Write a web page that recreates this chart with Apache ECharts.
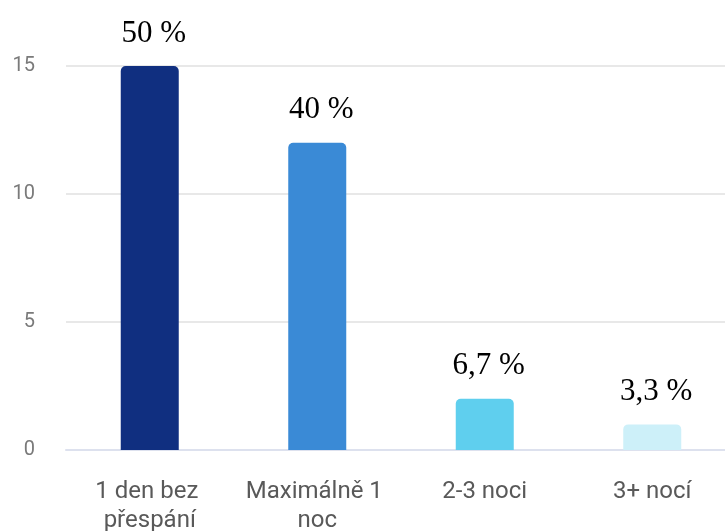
<!DOCTYPE html>
<html>
<head>
<meta charset="utf-8">
<title>ECharts</title>
<script src="https://cdn.jsdelivr.net/npm/echarts@6/dist/echarts.min.js"></script>
<style>
  html, body { margin: 0; padding: 0; background: #fff; }
  #main { width: 725px; height: 531px; }
</style>
</head>
<body>
<div id="main"></div>
<script type="text/javascript">
    // data
    var categories = ['1 den bez přespání', 'Maximálně 1 noc', '2-3 noci', '3+ nocí'];
    var counts = [15, 12, 2, 1];
    var percentLabels = ['50 %', '40 %', '6,7 %', '3,3 %'];
    var barColors = ['#102f80', '#3a8ad6', '#5fcfee', '#cdf0f9'];

    var myChart = echarts.init(document.getElementById('main'));

    var seriesData = [];
    for (var i = 0; i < counts.length; i++) {
        seriesData.push({
            value: counts[i],
            itemStyle: { color: barColors[i] }
        });
    }

    myChart.setOption({
        animation: false,
        grid: {
            left: 66,
            top: 66,
            width: 670,
            height: 384,
            containLabel: false,
            outerBoundsMode: 'none'
        },
        xAxis: {
            type: 'category',
            data: categories,
            axisLine: { lineStyle: { color: '#dde1ee', width: 2 } },
            axisTick: { show: false },
            axisLabel: {
                color: '#595959',
                fontFamily: 'Roboto',
                fontSize: 24,
                lineHeight: 29,
                margin: 27,
                width: 180,
                overflow: 'break',
                interval: 0
            }
        },
        yAxis: {
            type: 'value',
            min: 0,
            max: 15,
            interval: 5,
            axisLine: { show: false },
            axisTick: { show: false },
            axisLabel: {
                color: '#7a7a7a',
                fontFamily: 'Roboto',
                fontSize: 20,
                margin: 31
            },
            splitLine: { lineStyle: { color: '#e8e8e8', width: 2 } }
        },
        series: [
            {
                type: 'bar',
                data: seriesData,
                barWidth: 58,
                itemStyle: { borderRadius: [5, 5, 0, 0] },
                label: {
                    show: true,
                    position: 'top',
                    distance: 17,
                    offset: [4, 0],
                    color: '#000',
                    fontFamily: '"Liberation Serif", "Times New Roman", serif',
                    fontSize: 31,
                    formatter: function (p) { return percentLabels[p.dataIndex]; }
                }
            }
        ]
    });
</script>
</body>
</html>
